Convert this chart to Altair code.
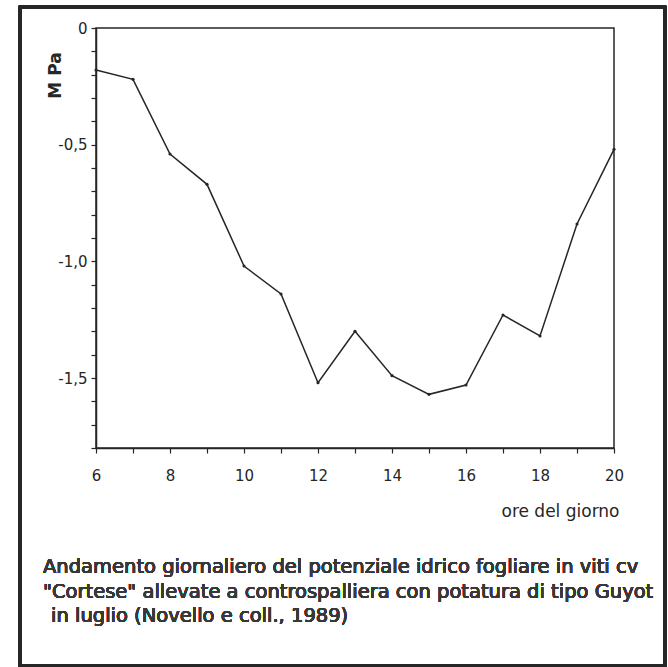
import altair as alt
import pandas as pd

# Leaf water potential over the day (MPa), hourly readings
hours = [6, 7, 8, 9, 10, 11, 12, 13, 14, 15, 16, 17, 18, 19, 20]
mpa = [-0.18, -0.22, -0.54, -0.67, -1.02, -1.14, -1.52, -1.30, -1.49, -1.57,
       -1.53, -1.23, -1.32, -0.84, -0.52]

x_ticks = list(range(6, 21))
y_ticks = [round(-i / 10, 1) for i in range(0, 19)]

caption_lines = [
    "Andamento giornaliero del potenziale idrico fogliare in viti cv",
    "\"Cortese\" allevate a controspalliera con potatura di tipo Guyot",
    "in luglio (Novello e coll., 1989)",
]

FONT = "DejaVu Sans"
INK = "#262626"

df = pd.DataFrame({"ora": hours, "mpa": mpa})

x_enc = alt.X(
    "ora:Q",
    scale=alt.Scale(domain=[6, 20], nice=False, zero=False),
    axis=alt.Axis(
        values=x_ticks,
        tickCount=40,
        labelExpr="datum.value % 2 == 0 ? format(datum.value, 'd') : ''",
        labelOverlap=False,
        labelFlush=False,
        title="ore del giorno",
        titleX=464,
        titleY=63,
        titleAlign="center",
        titleBaseline="middle",
        titleFontWeight="normal",
        titleFontSize=17,
        grid=False,
        tickSize=5,
        labelPadding=15,
    ),
)

y_enc = alt.Y(
    "mpa:Q",
    scale=alt.Scale(domain=[-1.8, 0], nice=False, zero=False),
    axis=alt.Axis(
        values=y_ticks,
        tickCount=40,
        labelExpr=(
            "datum.value == 0 ? '0' : "
            "(abs(datum.value * 2 - round(datum.value * 2)) < 1e-6 ? "
            "'-' + replace(format(abs(datum.value), '.1f'), '.', ',') : '')"
        ),
        labelOverlap=False,
        labelFlush=False,
        title="M Pa",
        titleAngle=270,
        titleX=-41,
        titleY=47,
        titleAlign="center",
        titleBaseline="middle",
        titleFontWeight="bold",
        titleFontSize=17,
        grid=False,
        tickSize=5,
        labelPadding=4,
    ),
)

line = alt.Chart(df).mark_line(color=INK, strokeWidth=1.5).encode(x=x_enc, y=y_enc)
dots = alt.Chart(df).mark_point(filled=True, color=INK, size=10, opacity=1).encode(
    x="ora:Q", y="mpa:Q"
)

# outer border around figure and caption
frame = alt.Chart(df).mark_rect(
    filled=False, stroke=INK, strokeWidth=2.5
).encode(
    x=alt.value(-76), x2=alt.value(569), y=alt.value(-21), y2=alt.value(638)
)

cap_offsets = [(-53, 539), (-53, 564), (-45, 588)]
captions = [
    alt.Chart(df).mark_text(
        text=txt, align="left", baseline="middle", font=FONT,
        fontSize=19.5, color="#383838"
    ).encode(x=alt.value(cx), y=alt.value(cy))
    for txt, (cx, cy) in zip(caption_lines, cap_offsets)
]

chart = (
    alt.layer(frame, line, dots, *captions)
    .properties(
        width=518,
        height=420,
        autosize=alt.AutoSizeParams(type="none"),
        padding={"left": 96, "top": 28, "right": 54, "bottom": 219},
        background="white",
    )
    .configure_view(stroke=INK, strokeWidth=1.5)
    .configure_axis(
        domainColor=INK,
        domainWidth=1.5,
        tickColor=INK,
        tickWidth=1.2,
        labelColor=INK,
        titleColor=INK,
        labelFont=FONT,
        titleFont=FONT,
        labelFontSize=15,
    )
)

chart.save("out.html", embed_options={"renderer": "svg", "actions": False})
